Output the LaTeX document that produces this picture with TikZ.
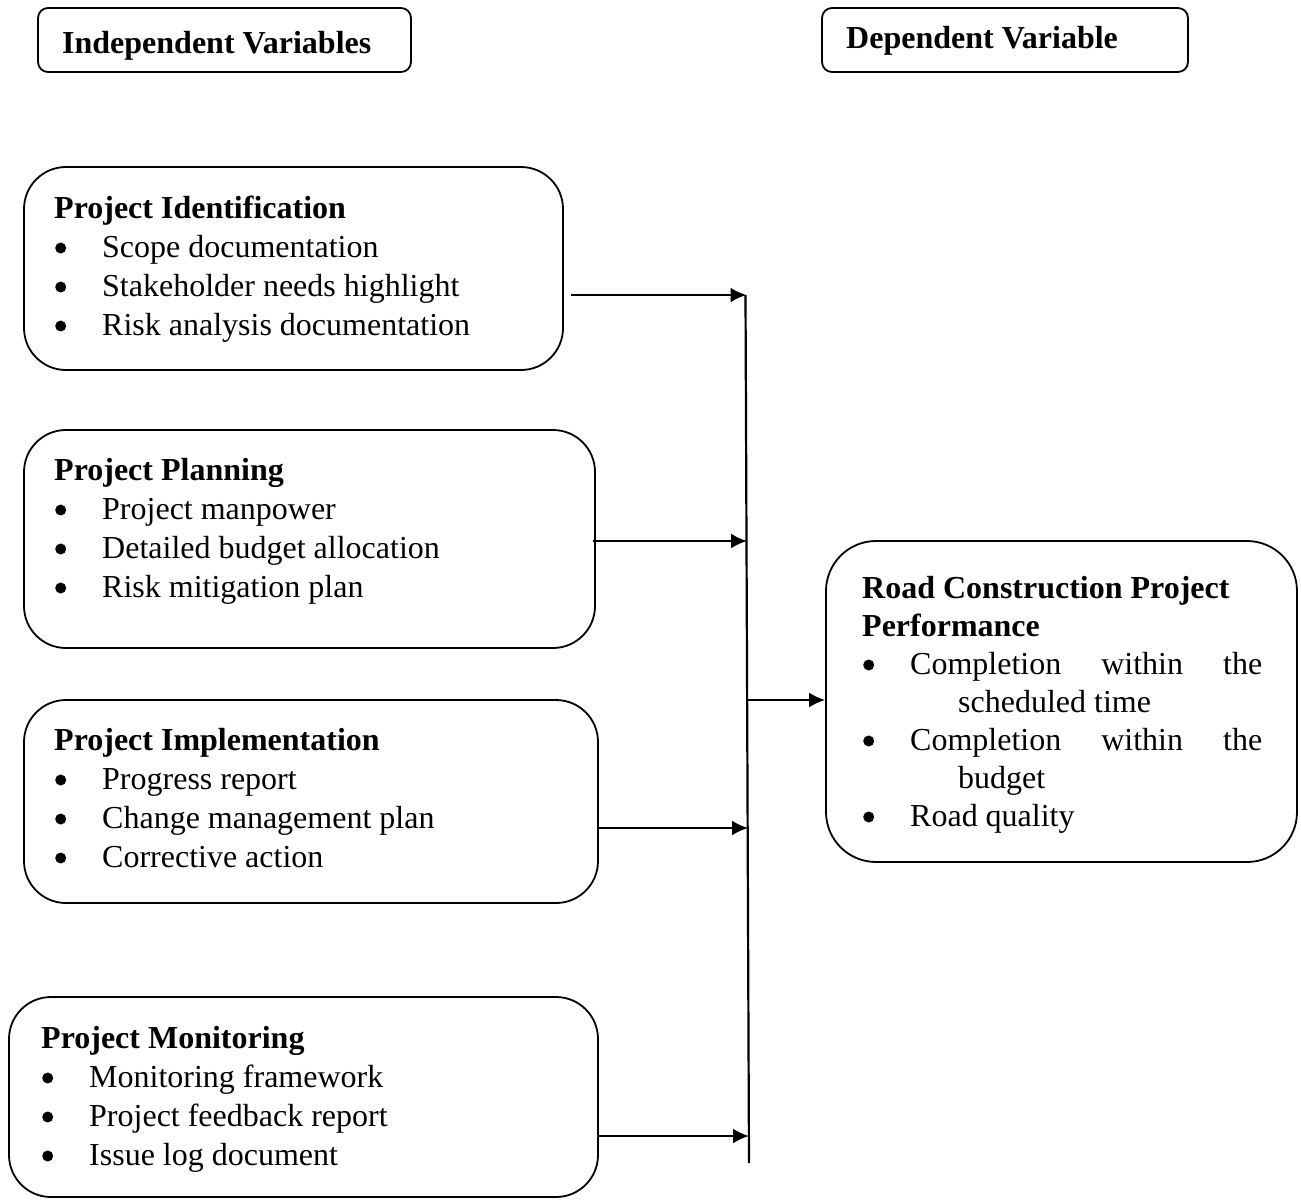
\documentclass[tikz,border=0pt]{standalone}
\usepackage{fontspec}
\setmainfont{Liberation Serif}
\usetikzlibrary{arrows.meta}
\newcommand{\dotmark}{\tikz[baseline=-9pt]\fill[black] (0,0) circle[radius=5.5pt];}
\newcommand{\bul}[1]{\makebox[48pt][l]{\hspace{1pt}\dotmark}#1}
\begin{document}
\begin{tikzpicture}[x=1pt,y=-1pt,
  box/.style={draw,line width=1.8pt,rounded corners=42pt,inner sep=0pt},
  hbox/.style={draw,line width=1.8pt,rounded corners=10pt,inner sep=0pt},
  txt/.style={anchor=base west,inner sep=0pt,font=\fontsize{32}{39}\selectfont},
  txtr/.style={anchor=base west,inner sep=0pt,font=\fontsize{32}{38}\selectfont},
  conn/.style={line width=2.2pt},
  arr/.style={line width=2.2pt,-{Latex[length=16pt,width=15pt]}}]
\useasboundingbox (0,0) rectangle (1301,1200);

% header boxes
\node[hbox,minimum width=373pt,minimum height=64pt] (hind) at (224.5,40) {};
\node[txt] (hindt) at (62,53) {\textbf{Independent Variables}};
\node[hbox,minimum width=366pt,minimum height=64pt] (hdep) at (1005,40) {};
\node[txt] (hdept) at (846,48) {\textbf{Dependent Variable}};

% independent variable boxes
\node[box,minimum width=539pt,minimum height=203pt] (b1) at (293.5,268.5) {};
\node[txt] (t1) at (54,218) {\begin{tabular}[t]{@{}l@{}}\textbf{Project Identification}\\
  \bul{Scope documentation}\\ \bul{Stakeholder needs highlight}\\ \bul{Risk analysis documentation}\end{tabular}};

\node[box,minimum width=571pt,minimum height=218pt] (b2) at (309.5,539) {};
\node[txt] (t2) at (54,480) {\begin{tabular}[t]{@{}l@{}}\textbf{Project Planning}\\
  \bul{Project manpower}\\ \bul{Detailed budget allocation}\\ \bul{Risk mitigation plan}\end{tabular}};

\node[box,minimum width=574pt,minimum height=203pt] (b3) at (311,801.5) {};
\node[txt] (t3) at (54,750) {\begin{tabular}[t]{@{}l@{}}\textbf{Project Implementation}\\
  \bul{Progress report}\\ \bul{Change management plan}\\ \bul{Corrective action}\end{tabular}};

\node[box,minimum width=589pt,minimum height=200pt] (b4) at (303.5,1097) {};
\node[txt] (t4) at (41,1048) {\begin{tabular}[t]{@{}l@{}}\textbf{Project Monitoring}\\
  \bul{Monitoring framework}\\ \bul{Project feedback report}\\ \bul{Issue log document}\end{tabular}};

% dependent variable box
\node[box,rounded corners=50pt,minimum width=471pt,minimum height=321pt] (rb) at (1061.5,701.5) {};
\node[txtr] (rt) at (862,598) {\begin{tabular}[t]{@{}l@{}}\textbf{Road Construction Project}\\
  \textbf{Performance}\\
  \bul{\makebox[352pt][s]{Completion\hfill within\hfill the}}\\
  \hspace{96pt}scheduled time\\
  \bul{\makebox[352pt][s]{Completion\hfill within\hfill the}}\\
  \hspace{96pt}budget\\
  \bul{Road quality}\end{tabular}};

% connectors
\coordinate (tTop) at (745.5,295);
\coordinate (tBot) at (749,1163);
\coordinate (j1) at (746.5,295);
\coordinate (j2) at (747,541);
\coordinate (j3) at (748,828);
\coordinate (j4) at (749,1136);
\coordinate (jm) at (748,700);
\draw[conn] (tTop) -- (tBot);
\draw[arr] ([xshift=7pt]b1.east |- j1) -- (j1);
\draw[arr] ([xshift=-3pt]b2.east |- j2) -- (j2);
\draw[arr] (b3.east |- j3) -- (j3);
\draw[arr] (b4.east |- j4) -- (j4);
\draw[arr] (jm) -- (rb.west |- jm);
\end{tikzpicture}
\end{document}
